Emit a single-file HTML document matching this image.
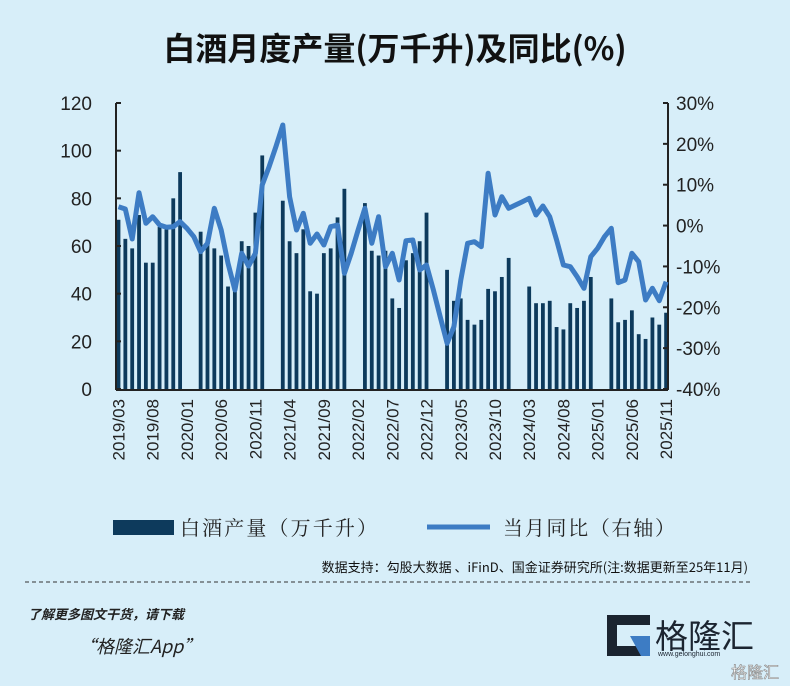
<!DOCTYPE html>
<html><head><meta charset="utf-8"><style>
html,body{margin:0;padding:0;width:790px;height:686px;overflow:hidden;background:#d7eef9;font-family:"Liberation Sans","Noto Sans CJK SC",sans-serif}
</style></head><body>
<svg id="s" width="790" height="686" xmlns="http://www.w3.org/2000/svg" style="position:absolute;left:0;top:0">
<rect width="790" height="686" fill="#d7eef9"/>
<text x="395" y="60" text-anchor="middle" font-size="32" font-weight="bold" fill="#111" font-family="Noto Sans CJK SC, sans-serif">白酒月度产量(万千升)及同比(%)</text>
<g id="bars"></g>
<g id="axes" stroke="#222" stroke-width="2" fill="none"></g>
<g id="lbl" font-size="19" fill="#222"></g>
<polyline id="ln" fill="none" stroke="#3d7cc4" stroke-width="5" stroke-linejoin="round"/>
<g font-size="17" fill="#222" id="xl"></g>
<rect x="113" y="520" width="61" height="15" fill="#0d3a5c"/>
<text x="180" y="535" font-size="20" fill="#222" font-family="Noto Serif CJK SC, serif" textLength="197" lengthAdjust="spacing">白酒产量（万千升）</text>
<line x1="427" y1="527" x2="490" y2="527" stroke="#3d7cc4" stroke-width="5"/>
<text x="503" y="535" font-size="20" fill="#222" font-family="Noto Serif CJK SC, serif" textLength="172" lengthAdjust="spacing">当月同比（右轴）</text>
<text x="748" y="572" text-anchor="end" font-size="13" fill="#111" font-family="Noto Sans CJK SC, sans-serif">数据支持：勾股大数据 、iFinD、国金证券研究所(注:数据更新至25年11月)</text>
<line x1="25" y1="582" x2="750" y2="582" stroke="#333" stroke-width="1" stroke-dasharray="4,3"/>
<text x="28" y="619" font-size="13" font-style="italic" font-weight="bold" fill="#222" font-family="Noto Sans CJK SC, sans-serif">了解更多图文干货，请下载</text>
<text x="78" y="653" font-size="18" font-style="italic" fill="#222" font-family="Noto Sans CJK SC, sans-serif">“格隆汇App”</text>
<rect x="607" y="615" width="43" height="41" fill="#1b2430"/>
<rect x="617" y="625" width="33" height="21" fill="#d7eef9"/>
<polygon points="630,636 650,636 650,656 641,656" fill="#3d7cc4"/>
<text x="655" y="648" font-size="33" fill="#1b2430" font-family="Noto Sans CJK SC, sans-serif">格隆汇</text>
<text x="658" y="656" font-size="7" fill="#1b2430">www.gelonghui.com</text>
<text x="731" y="678" font-size="16" fill="#fff" stroke="#888" stroke-width="0.6" font-family="Noto Sans CJK SC, sans-serif">格隆汇</text>
</svg>
<script>
var NS="http://www.w3.org/2000/svg";
function el(t,a,p){var e=document.createElementNS(NS,t);for(var k in a)e.setAttribute(k,a[k]);if(p)p.appendChild(e);return e;}
var bars=[71,63,59,73,53,53,68,67,80,91,0,0,66,61,59,56,43,41,62,60,74,98,0,0,79,62,57,67,41,40,57,59,72,84,0,0,78,58,56,58,38,34,54,57,62,74,0,0,50,37,38,29,27,29,42,41,47,55,0,0,43,36,36,37,26,25,36,34,37,47,0,0,38,28,29,33,23,21,30,27,32];
var ly=[350,357,447,308,400,380,405,412,410,395,415,440,485,460,355,420,520,600,490,528,490,285,230,170,105,320,420,370,460,432,465,410,405,550,490,420,355,460,380,530,490,570,452,450,540,525,600,680,760,710,570,460,455,470,250,375,320,355,345,335,325,375,348,380,450,525,530,560,595,500,475,440,415,578,570,490,515,630,595,632,575];
function X(i){return 118.5+i*6.845;}
function Yb(v){return 389-v*(286/120);}
var g=document.getElementById("bars");
bars.forEach(function(v,i){if(v>0)el("rect",{x:X(i)-1.9,y:Yb(v),width:3.8,height:389-Yb(v),fill:"#0d3a5c"},g);});
document.getElementById("ln").setAttribute("points",ly.map(function(y,i){return X(i).toFixed(1)+","+(90+y/3).toFixed(1);}).join(" "));
var a=document.getElementById("axes");
el("line",{x1:116,y1:103,x2:116,y2:390},a);
el("line",{x1:668,y1:103,x2:668,y2:390},a);
el("line",{x1:116,y1:390,x2:668,y2:390},a);
var L=document.getElementById("lbl");
for(var k=0;k<=6;k++){var y=389-k*286/6;el("line",{x1:116,y1:y,x2:121,y2:y},a);var t=el("text",{x:92,y:y+7,"text-anchor":"end"},L);t.textContent=(k*20);}
for(var k=0;k<=7;k++){var y=103+k*286/7;el("line",{x1:663,y1:y,x2:668,y2:y},a);var t=el("text",{x:676,y:y+7},L);t.textContent=(30-k*10)+"%";}
var labs=["2019/03","2019/08","2020/01","2020/06","2020/11","2021/04","2021/09","2022/02","2022/07","2022/12","2023/05","2023/10","2024/03","2024/08","2025/01","2025/06","2025/11"];
var XL=document.getElementById("xl");
labs.forEach(function(s,j){var x=X(j*5)+6;var t=el("text",{x:x,y:399,"text-anchor":"end",transform:"rotate(-90 "+x+" 399)"},XL);t.textContent=s;});
</script>
</body></html>
